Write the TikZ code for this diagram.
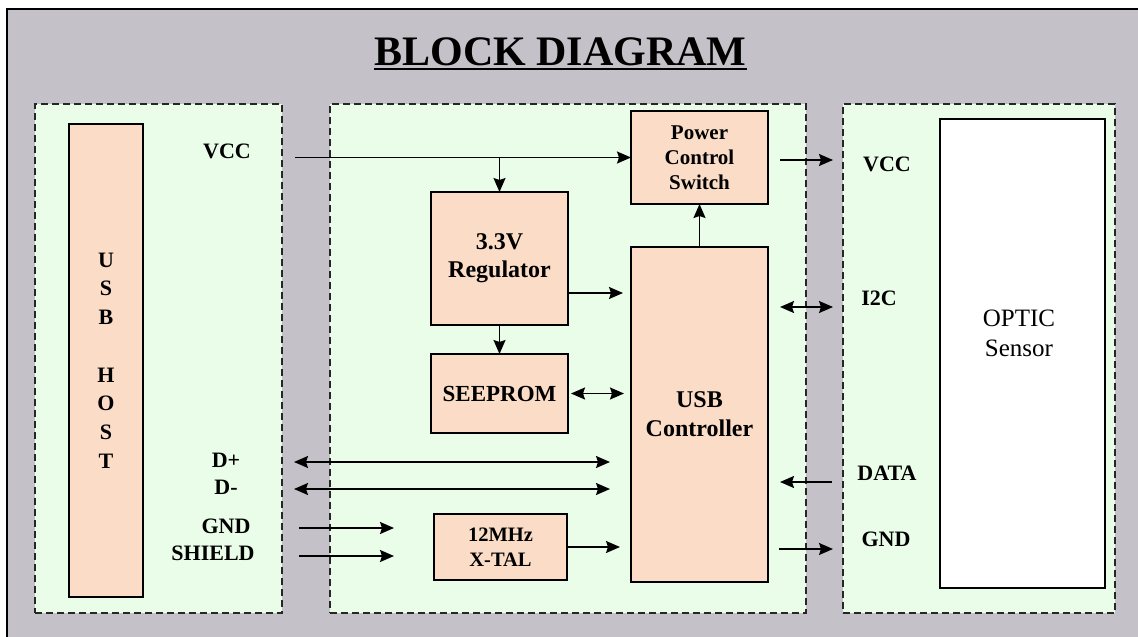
\documentclass[tikz,border=0pt]{standalone}
\usepackage{fontspec}
\setmainfont{Liberation Serif}
\usetikzlibrary{arrows.meta, positioning, calc}

\definecolor{bggray}{RGB}{197,193,200}
\definecolor{panelgreen}{RGB}{233,253,233}
\definecolor{peach}{RGB}{251,221,199}

\begin{document}
\begin{tikzpicture}[
    x=1pt, y=-1pt,
    panel/.style={rectangle, draw=black!85, dash pattern=on 7pt off 4pt, line width=1.2pt, fill=panelgreen, anchor=north west, minimum width=#1, minimum height=509, inner sep=0, outer sep=0},
    block/.style={rectangle, draw, line width=1.5pt, fill=peach, align=center, inner sep=0, outer sep=0, font=\bfseries\fontsize{24}{28}\selectfont},
    sig/.style={font=\bfseries\fontsize{22}{26}\selectfont, inner sep=0, outer sep=0},
    arrow/.style={-{Stealth[length=14pt, width=12pt, inset=2pt]}, line width=1.6pt},
    dblarrow/.style={{Stealth[length=14pt, width=12pt, inset=2pt]}-{Stealth[length=14pt, width=12pt, inset=2pt]}, line width=1.6pt}
]
    % Frame and title
    \useasboundingbox (0,0) rectangle (1138,637);
    \fill[bggray] (7,9) rectangle (1138,637);
    \draw[line width=1.5pt] (7,637) -- (7,9) -- (1138,9);
    \node[font=\bfseries\fontsize{42}{48}\selectfont, inner sep=0, anchor=base] (title) at (560.5,65) {BLOCK DIAGRAM};
    \draw[line width=2pt] ([yshift=-3.5pt]title.base west) -- ([yshift=-3.5pt]title.base east);

    % Panels
    \node[panel=247] (hostpanel) at (35,104) {};
    \node[panel=476] (ctrlpanel) at (330,104) {};
    \node[panel=272] (sensorpanel) at (843,104) {};

    % USB host side
    \node[block, minimum width=74, minimum height=473, font=\bfseries\fontsize{22}{28.7}\selectfont] (host) at (106,360.5) {U\\S\\B\\[28.7pt]H\\O\\S\\T};
    \node[sig] (vccin) at (227,151) {VCC};
    \node[sig] (dp) at (226,460) {D+};
    \node[sig] (dm) at (226,487) {D-};
    \node[sig] (gnd) at (226,526) {GND};
    \node[sig] (shield) at (213,553) {SHIELD};

    % Controller board
    \node[block, minimum width=137, minimum height=133] (reg) at (499.5,258.5) {3.3V\\Regulator};
    \node[block, minimum width=137, minimum height=79, font=\bfseries\fontsize{23}{28}\selectfont, below=29pt of reg] (seeprom) {SEEPROM};
    \node[block, minimum width=137, minimum height=335, font=\bfseries\fontsize{24}{29}\selectfont] (usbc) at (699.5,414.5) {USB\\Controller};
    \node[block, minimum width=137, minimum height=93, font=\bfseries\fontsize{21}{25}\selectfont, above=43pt of usbc] (pcs) {Power\\Control\\Switch};
    \node[block, minimum width=133, minimum height=66, font=\bfseries\fontsize{20.5}{25}\selectfont] (xtal) at (500.5,547) {12MHz\\X-TAL};

    % Sensor side
    \node[rectangle, draw, line width=1.5pt, fill=white, minimum width=165, minimum height=469, inner sep=0, outer sep=0] (optic) at (1022.5,353.5) {};
    \node[font=\fontsize{25}{30}\selectfont, align=center, inner sep=0] (opticlbl) at ($(optic.center)+(-3.5,-20.5)$) {OPTIC\\Sensor};
    \node[sig] (vccout) at (887,164) {VCC};
    \node[sig] (i2c) at (879,298) {I2C};
    \node[sig] (data) at (887,473) {DATA};
    \node[sig] (gndout) at (886,539) {GND};

    % Power path
    \draw[arrow] ($(hostpanel.east |- pcs.west)+(13,0)$) -- (pcs.west);
    \draw[arrow] (reg.north |- pcs.west) -- (reg.north);
    \draw[arrow] (reg.south) -- (seeprom.north);
    \draw[arrow] ($(reg.east)+(0,34.5)$) -- ($(usbc.west |- reg.east)+(-8,34.5)$);
    \draw[arrow] (usbc.north) -- (pcs.south);
    \draw[arrow] ($(pcs.east)+(12,2.5)$) -- ($(ctrlpanel.east |- pcs.east)+(27,2.5)$);

    % Data path
    \draw[dblarrow] ($(seeprom.east)+(3,0)$) -- ($(usbc.west |- seeprom.east)+(-7,0)$);
    \draw[dblarrow] ($(hostpanel.east |- dp)+(12,2)$) -- ($(usbc.west |- dp)+(-21,2)$);
    \draw[dblarrow] ($(hostpanel.east |- dm)+(12,2)$) -- ($(usbc.west |- dm)+(-21,2)$);
    \draw[arrow] ($(hostpanel.east |- gnd)+(17,2)$) -- ($(xtal.west |- gnd)+(-40,2)$);
    \draw[arrow] ($(hostpanel.east |- shield)+(17,3)$) -- ($(xtal.west |- shield)+(-40,3)$);
    \draw[arrow] (xtal.east) -- ($(usbc.west |- xtal.east)+(-11,0)$);
    \draw[dblarrow] ($(usbc.east |- i2c)+(12,9)$) -- ($(ctrlpanel.east |- i2c)+(27,9)$);
    \draw[arrow] ($(ctrlpanel.east |- data)+(26,9)$) -- ($(usbc.east |- data)+(12,9)$);
    \draw[arrow] ($(usbc.east |- gndout)+(11,10)$) -- ($(ctrlpanel.east |- gndout)+(27,10)$);
\end{tikzpicture}
\end{document}
